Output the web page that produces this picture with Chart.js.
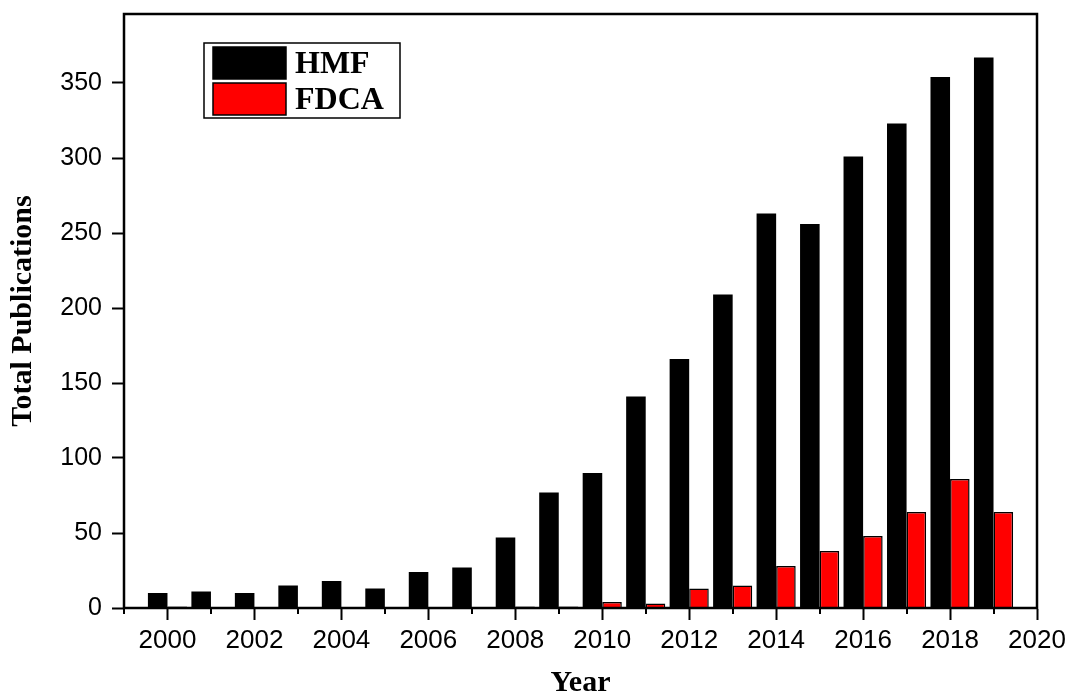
<!DOCTYPE html>
<html lang="en">
<head>
<meta charset="UTF-8">
<title>HMF and FDCA publications per year</title>
<script src="https://cdn.jsdelivr.net/npm/chart.js"></script>
<style>
  html, body { margin: 0; padding: 0; background: #fff; }
  #wrap { width: 1071px; height: 695px; }
</style>
</head>
<body>
<div id="wrap"><canvas id="myChart"></canvas></div>
<script>
// data
const years = [2000, 2001, 2002, 2003, 2004, 2005, 2006, 2007, 2008, 2009,
               2010, 2011, 2012, 2013, 2014, 2015, 2016, 2017, 2018, 2019];
const hmf  = [10, 11, 10, 15, 18, 13, 24, 27, 47, 77,
              90, 141, 166, 209, 263, 256, 301, 323, 354, 367];
const fdca = [1, 0, 0, 0, 0, 0, 0, 0, 1, 1,
              4, 3, 13, 15, 28, 38, 48, 64, 86, 64];
const seriesNames = ['HMF', 'FDCA'];
const yTicks = [0, 50, 100, 150, 200, 250, 300, 350];

const toPoints = vals => vals.map((v, i) => ({ x: years[i], y: v }));

// box around the plot area
const frame = {
  id: 'frame',
  afterDraw(chart) {
    const { ctx, chartArea: a } = chart;
    ctx.save();
    ctx.strokeStyle = '#000';
    ctx.lineWidth = 2.5;
    ctx.strokeRect(a.left, a.top, a.right - a.left, a.bottom - a.top);
    ctx.restore();
  }
};

// short ticks on odd years
const minorTicks = {
  id: 'minorTicks',
  afterDraw(chart) {
    const { ctx, chartArea: a } = chart;
    const xs = chart.scales.x;
    ctx.save();
    ctx.strokeStyle = '#000';
    ctx.lineWidth = 2;
    xs.ticks.forEach(t => {
      if (t.value % 2 !== 0) {
        const px = Math.round(xs.getPixelForValue(t.value));
        ctx.beginPath();
        ctx.moveTo(px, a.bottom);
        ctx.lineTo(px, a.bottom + 6);
        ctx.stroke();
      }
    });
    ctx.restore();
  }
};

// legend box drawn inside the plot like the original
const boxLegend = {
  id: 'boxLegend',
  afterDraw(chart) {
    const ctx = chart.ctx;
    const x0 = 204, y0 = 43, w = 196, h = 75;
    ctx.save();
    ctx.fillStyle = '#fff';
    ctx.fillRect(x0, y0, w, h);
    ctx.strokeStyle = '#000';
    ctx.lineWidth = 1.5;
    ctx.strokeRect(x0, y0, w, h);
    ctx.font = 'bold 32px "Liberation Serif", "Times New Roman", serif';
    ctx.textBaseline = 'middle';
    chart.data.datasets.forEach((ds, i) => {
      const sy = y0 + 4 + i * 36;
      ctx.fillStyle = ds.backgroundColor;
      ctx.fillRect(x0 + 9, sy, 73, 32);
      ctx.strokeStyle = '#000';
      ctx.lineWidth = 1.5;
      ctx.strokeRect(x0 + 9, sy, 73, 32);
      ctx.fillStyle = '#000';
      ctx.fillText(ds.label, x0 + 91, sy + 18);
    });
    ctx.restore();
  }
};

const ctx = document.getElementById('myChart').getContext('2d');
const myChart = new Chart(ctx, {
  type: 'bar',
  data: {
    datasets: [
      {
        label: seriesNames[0],
        data: toPoints(hmf),
        backgroundColor: '#000000',
        borderWidth: 0,
      },
      {
        label: seriesNames[1],
        data: toPoints(fdca),
        backgroundColor: '#ff0000',
        borderColor: '#000000',
        borderWidth: 1.5,
      },
    ],
  },
  options: {
    responsive: true,
    maintainAspectRatio: false,
    animation: false,
    layout: { padding: { left: 0, top: 14, right: 34, bottom: 0 } },
    datasets: { bar: { categoryPercentage: 0.9, barPercentage: 1.0 } },
    plugins: { legend: { display: false }, tooltip: { enabled: false } },
    scales: {
      x: {
        type: 'linear',
        min: 1999,
        max: 2020,
        offset: false,
        ticks: {
          stepSize: 1,
          autoSkip: false,
          maxRotation: 0,
          padding: 5,
          color: '#000',
          font: { family: 'Liberation Sans', size: 26 },
          callback: v => (v % 2 === 0 ? String(v) : ''),
        },
        grid: {
          offset: false,
          drawOnChartArea: false,
          tickLength: 12,
          tickWidth: 2,
          tickColor: c => (c.tick && c.tick.value % 2 !== 0 ? 'rgba(0,0,0,0)' : '#000'),
        },
        border: { display: true, color: '#000', width: 2 },
        title: {
          display: true,
          text: 'Year',
          color: '#000',
          font: { family: 'Liberation Serif', size: 30, weight: 'bold', lineHeight: 0.8 },
          padding: { top: 0, bottom: 0 },
        },
        afterFit: s => { s.height = 87; s.paddingLeft = 0; s.paddingRight = 0; },
      },
      y: {
        min: 0,
        max: 396,
        ticks: {
          stepSize: 50,
          padding: 10,
          color: '#000',
          font: { family: 'Liberation Sans', size: 25 },
        },
        afterBuildTicks: s => { s.ticks = yTicks.map(v => ({ value: v })); },
        grid: { drawOnChartArea: false, tickLength: 12, tickWidth: 2, tickColor: '#000' },
        border: { display: true, color: '#000', width: 2 },
        title: {
          display: true,
          text: 'Total Publications',
          color: '#000',
          font: { family: 'Liberation Serif', size: 30, weight: 'bold', lineHeight: 1 },
          padding: { top: 8, bottom: 0 },
        },
        afterFit: s => { s.width = 124; s.paddingTop = 0; s.paddingBottom = 0; },
      },
    },
  },
  plugins: [frame, minorTicks, boxLegend],
});
</script>
</body>
</html>
